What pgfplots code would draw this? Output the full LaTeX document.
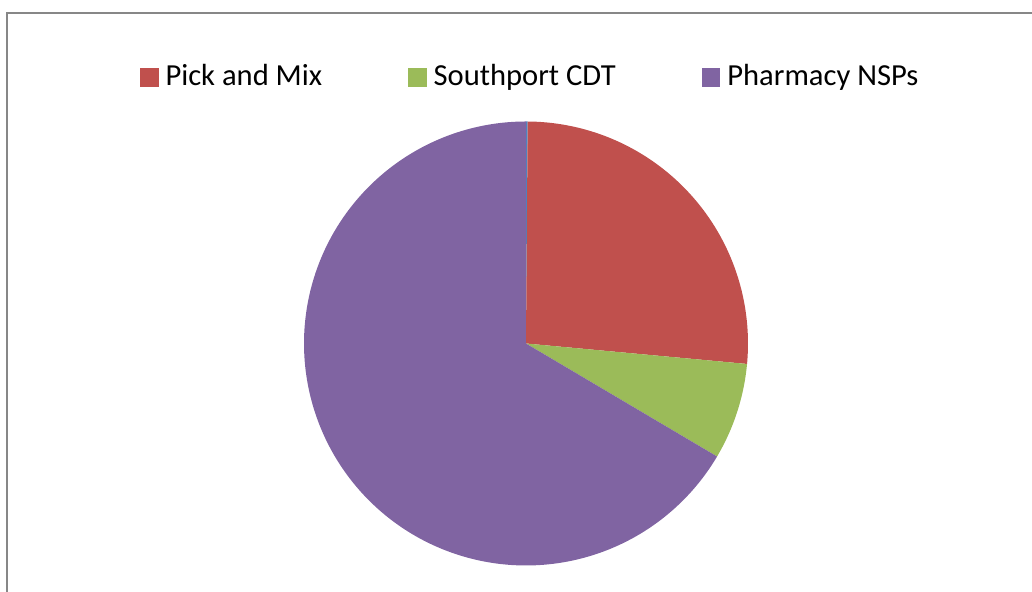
\documentclass[border=0pt]{standalone}
\usepackage{fontspec}
\setmainfont{Carlito}
\usepackage{pgfplots}
\pgfplotsset{compat=1.18}
\definecolor{cBlue}{HTML}{4F81BD}
\definecolor{cRed}{HTML}{C0504D}
\definecolor{cGreen}{HTML}{9BBB59}
\definecolor{cPurple}{HTML}{8064A2}
\definecolor{cFrame}{HTML}{878787}
% slice values (percent), clockwise from 12 o'clock
\def\vBlank{0.12}
\def\vPick{26.35}
\def\vSouth{7.03}
\def\vPharm{66.50}
\pgfmathsetmacro\aA{90}
\pgfmathsetmacro\aB{\aA-3.6*\vBlank}
\pgfmathsetmacro\aC{\aB-3.6*\vPick}
\pgfmathsetmacro\aD{\aC-3.6*\vSouth}
\pgfmathsetmacro\aE{\aD-3.6*\vPharm}
\def\cx{526}
\def\cy{248.5}
\def\rr{222}
\begin{document}
\begin{tikzpicture}
\begin{axis}[
  width=10.32cm, height=5.92cm, scale only axis,
  xmin=0, xmax=1032, ymin=0, ymax=592,
  hide axis, clip=false,
  legend columns=3,
  legend style={at={(axis cs:140,514)}, anchor=west, draw=none, fill=none,
    inner sep=0pt, outer sep=0pt,
    font=\fontsize{8.7}{10}\selectfont,
    nodes={inner sep=0pt, anchor=west},
    /tikz/every odd column/.append style={column sep=0.7mm},
    /tikz/every even column/.append style={column sep=8.6mm}},
  legend image code/.code={\fill[#1] (0mm,-0.95mm) rectangle (1.85mm,0.95mm);},
]
\addplot[fill=cBlue, draw=none, domain=\aB:\aA, samples=5, forget plot]
  ({\cx+\rr*cos(x)},{\cy+\rr*sin(x)}) -- (axis cs:\cx,\cy) -- cycle;
\addplot[fill=cRed, draw=none, domain=\aC:\aB, samples=120]
  ({\cx+\rr*cos(x)},{\cy+\rr*sin(x)}) -- (axis cs:\cx,\cy) -- cycle;
\addlegendentry{Pick and Mix}
\addplot[fill=cGreen, draw=none, domain=\aD:\aC, samples=60]
  ({\cx+\rr*cos(x)},{\cy+\rr*sin(x)}) -- (axis cs:\cx,\cy) -- cycle;
\addlegendentry{Southport CDT}
\addplot[fill=cPurple, draw=none, domain=\aE:\aD, samples=240]
  ({\cx+\rr*cos(x)},{\cy+\rr*sin(x)}) -- (axis cs:\cx,\cy) -- cycle;
\addlegendentry{Pharmacy NSPs}
\draw[cFrame, line width=0.2mm] (axis cs:7.5,-20) |- (axis cs:1060,578.5);
\end{axis}
\pgfresetboundingbox
\path[use as bounding box] (0,0) rectangle (10.32cm,5.92cm);
\end{tikzpicture}
\end{document}
